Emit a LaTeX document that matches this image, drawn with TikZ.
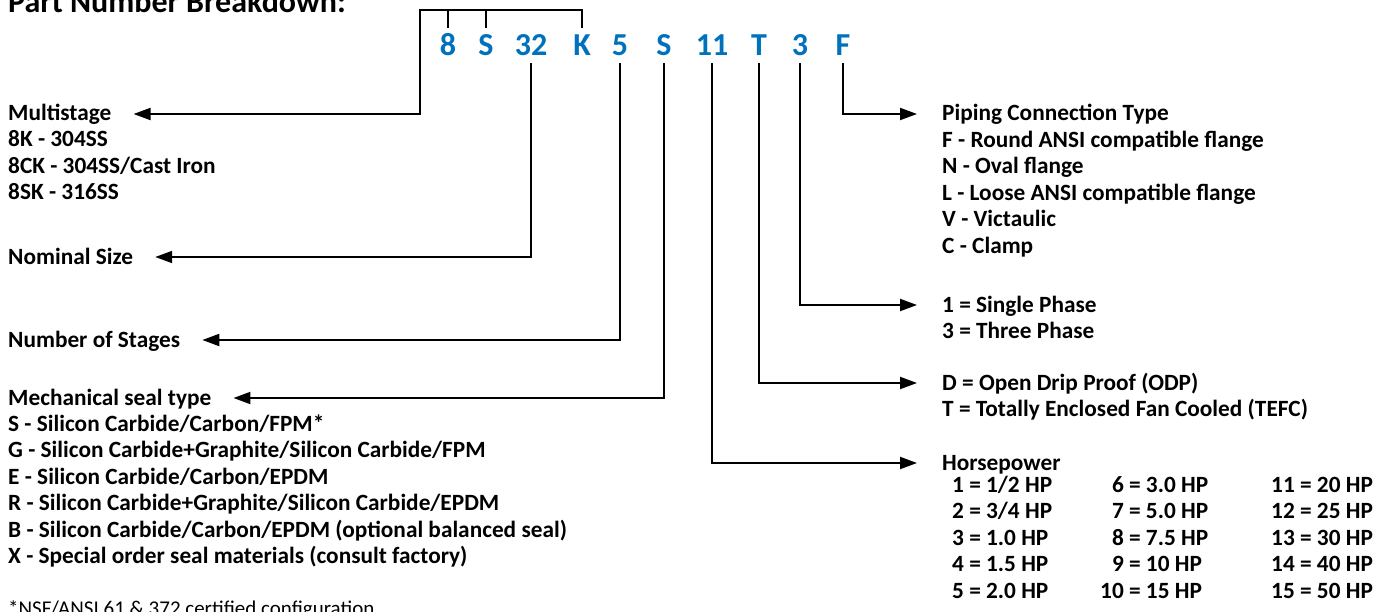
\documentclass[tikz,border=0pt]{standalone}
\usepackage{fontspec}
\setmainfont{Carlito}
\usepackage{tikz}
\usetikzlibrary{arrows.meta,positioning}
\definecolor{codeblue}{HTML}{0072BC}
\newcommand{\bodyfont}{\fontsize{23.3bp}{26.5bp}\selectfont\bfseries}
\newcommand{\codefont}{\fontsize{32bp}{36bp}\selectfont\bfseries}
\newcommand{\titlefont}{\fontsize{32bp}{36bp}\selectfont\bfseries}
\newcommand{\notefont}{\fontsize{21bp}{24bp}\selectfont}
\newcommand{\rows}[1]{\begin{tabular}[t]{@{}l@{}}#1\end{tabular}}
\newcommand{\hprows}[1]{\begin{tabular}[t]{@{}r@{\ =\ }l@{}}#1\end{tabular}}

\begin{document}
\begin{tikzpicture}[x=1bp,y=-1bp,>={Triangle[length=17bp,width=12bp]}]
  \path[use as bounding box] (0,0) rectangle (1390,612);
  \tikzset{
    code/.style={text=codeblue,font=\codefont,anchor=base,inner xsep=0pt,inner ysep=7bp,text height=21bp,text depth=0pt},
    head/.style={font=\bodyfont,anchor=base west,inner sep=0pt,text height=14bp,text depth=0pt},
    list/.style={font=\bodyfont,anchor=base west,inner sep=0pt},
    link/.style={draw=black,line width=2bp},
    toleft/.style={link,->,shorten >=22bp},
    toright/.style={link,->,shorten >=25bp}
  }
  \node[font=\titlefont,anchor=base west,inner sep=0pt] (title) at (8,13) {Part Number Breakdown:};

  \node[code] (c8) at (448,56) {8};
  \node[code] (cS) at (486,56) {S};
  \node[code] (c32) at (531,56) {32};
  \node[code] (cK) at (582,56) {K};
  \node[code] (c5) at (620,56) {5};
  \node[code] (cSeal) at (664,56) {S};
  \node[code] (c11) at (712,56) {11};
  \node[code] (cT) at (759,56) {T};
  \node[code] (c3) at (800,56) {3};
  \node[code] (cF) at (843,56) {F};
  \coordinate (brk) at (420,10);

  \node[head] (multi) at (8,121) {Multistage};
  \node[list] (multilist) at (8,147) {\rows{8K - 304SS\\8CK - 304SS/Cast Iron\\8SK - 316SS}};
  \node[head] (nominal) at (8,264) {Nominal Size};
  \node[head] (stages) at (8,347) {Number of Stages};
  \node[head] (seal) at (8,405) {Mechanical seal type};
  \node[list] (seallist) at (8,431) {\rows{S - Silicon Carbide/Carbon/FPM*\\G - Silicon Carbide+Graphite/Silicon Carbide/FPM\\E - Silicon Carbide/Carbon/EPDM\\R - Silicon Carbide+Graphite/Silicon Carbide/EPDM\\B - Silicon Carbide/Carbon/EPDM (optional balanced seal)\\X - Special order seal materials (consult factory)}};
  \node[font=\notefont,anchor=base west,inner sep=0pt] (note) at (8,615) {*NSF/ANSI 61 \& 372 certified configuration};

  \node[head] (piping) at (942,121) {Piping Connection Type};
  \node[list] (pipinglist) at (942,147.3) {\rows{F - Round ANSI compatible flange\\N - Oval flange\\L - Loose ANSI compatible flange\\V - Victaulic\\C - Clamp}};
  \node[head] (phase) at (942,312) {1 = Single Phase};
  \node[list] (phaselist) at (942,338.5) {3 = Three Phase};
  \node[head] (encl) at (942,390) {D = Open Drip Proof (ODP)};
  \node[list] (encllist) at (942,416.5) {T = Totally Enclosed Fan Cooled (TEFC)};
  \node[head] (hp) at (942,470) {Horsepower};
  \node[list] (hpa) at (952,492) {\hprows{1&1/2 HP\\2&3/4 HP\\3&1.0 HP\\4&1.5 HP\\5&2.0 HP}};
  \node[list] (hpb) at (1100,492) {\hprows{6&3.0 HP\\7&5.0 HP\\8&7.5 HP\\9&10 HP\\10&15 HP}};
  \node[list] (hpc) at (1271,492) {\hprows{11&20 HP\\12&25 HP\\13&30 HP\\14&40 HP\\15&50 HP}};

  \draw[link] (c8.north) -- (c8.north |- brk);
  \draw[link] (cS.north) -- (cS.north |- brk);
  \draw[toleft] (cK.north) |- (brk) |- (multi.east);
  \draw[toleft] (c32.south) |- (nominal.east);
  \draw[toleft] (c5.south) |- (stages.east);
  \draw[toleft] (cSeal.south) |- (seal.east);
  \draw[toright] (cF.south) |- (piping.west);
  \draw[toright] (c3.south) |- (phase.west);
  \draw[toright] (cT.south) |- (encl.west);
  \draw[toright] (c11.south) |- (hp.west);
\end{tikzpicture}
\end{document}
